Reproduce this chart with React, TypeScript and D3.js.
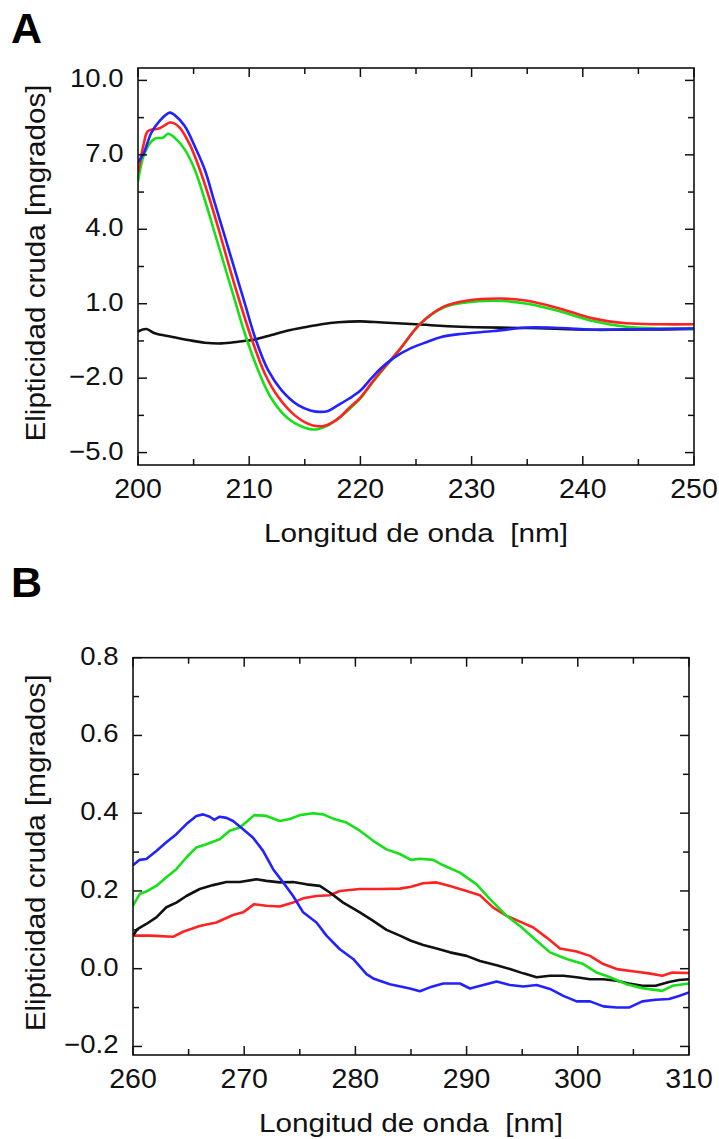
import React from "react";
import * as d3 from "d3";

type Pt = [number, number];

// ---------- Panel A (200–250 nm) ----------
const aXTicks = [200, 210, 220, 230, 240, 250];
const aYTicks = [10.0, 7.0, 4.0, 1.0, -2.0, -5.0];
const aYLabels = ["10.0", "7.0", "4.0", "1.0", "\u22122.0", "\u22125.0"];

const aBlue: Pt[] = [
  [200, 6.7], [200.5, 7.05], [201.2, 7.89], [201.95, 8.37], [202.85, 8.7], [203.3, 8.6],
  [204.2, 8.16], [205.1, 7.35], [206.0, 6.41], [206.9, 5.06], [207.8, 3.72], [208.7, 2.37],
  [209.6, 1.02], [210.6, -0.46], [211.7, -1.68], [212.9, -2.48], [214.4, -3.09], [215.5, -3.3],
  [216.4, -3.36], [217.1, -3.32], [218.0, -3.09], [219, -2.82], [220, -2.5], [221, -2.0],
  [221.8, -1.62], [223, -1.18], [224.5, -0.8], [226, -0.54], [227.2, -0.35], [229, -0.22],
  [232, -0.1], [235, 0.04], [238, 0.02], [241, -0.05], [245, -0.03], [250, 0.0],
];
const aRed: Pt[] = [
  [200, 6.27], [200.5, 7.4], [200.9, 7.96], [201.95, 8.07], [202.85, 8.3], [203.2, 8.28],
  [203.75, 8.1], [204.65, 7.42], [205.5, 6.48], [206.45, 5.2], [207.35, 3.85], [208.2, 2.5],
  [209.1, 1.15], [210.2, -0.39], [211.4, -1.81], [212.6, -2.75], [214.1, -3.5], [215.2, -3.82],
  [216.2, -3.94], [216.8, -3.92], [218.0, -3.63], [219, -3.2], [220, -2.78], [221, -2.2],
  [221.8, -1.75], [223.5, -0.86], [225.4, 0.2], [227.5, 0.88], [229.5, 1.12], [232.6, 1.21],
  [235, 1.12], [237.9, 0.81], [240.9, 0.41], [243.9, 0.21], [247, 0.17], [250, 0.17],
];
const aGreen: Pt[] = [
  [200, 5.92], [200.6, 7.08], [201.5, 7.65], [202.25, 7.69], [202.7, 7.85], [203.3, 7.69],
  [204.2, 7.22], [205.1, 6.41], [206.0, 5.2], [206.9, 3.85], [207.8, 2.5], [208.7, 1.15],
  [209.6, -0.19], [210.8, -1.68], [212.0, -2.82], [213.5, -3.63], [215.0, -4.0], [215.9, -4.07],
  [217.1, -3.9], [218.0, -3.63], [219, -3.25], [220, -2.82], [221, -2.22], [221.8, -1.78],
  [223.5, -0.88], [225.4, 0.2], [227.5, 0.85], [229.5, 1.05], [232.2, 1.12], [235, 1.0],
  [237.9, 0.7], [240.9, 0.3], [243.9, 0.07], [247, 0.0], [250, 0.0],
];
const aBlack: Pt[] = [
  [200, -0.12], [200.75, -0.02], [201.5, -0.19], [203, -0.33], [204.5, -0.46], [206, -0.57],
  [207.5, -0.6], [209, -0.53], [210.5, -0.44], [212, -0.26], [213.5, -0.08], [215, 0.05],
  [216.5, 0.17], [218, 0.25], [220, 0.29], [222, 0.24], [225, 0.17], [229, 0.07],
  [235, 0.02], [241, -0.05], [245, -0.04], [250, -0.02],
];

// ---------- Panel B (260–310 nm) ----------
const bXTicks = [260, 270, 280, 290, 300, 310];
const bYTicks = [0.8, 0.6, 0.4, 0.2, 0.0, -0.2];
const bYLabels = ["0.8", "0.6", "0.4", "0.2", "0.0", "\u22120.2"];

const bBlue: Pt[] = [
  [260, 0.266], [260.6, 0.28], [261.2, 0.282], [262.1, 0.303], [263, 0.325], [263.9, 0.346],
  [264.8, 0.372], [265.7, 0.393], [266.3, 0.397], [266.9, 0.391], [267.3, 0.383], [267.8, 0.391],
  [268.4, 0.388], [269, 0.38], [269.9, 0.359], [270.8, 0.337], [271.7, 0.303], [272.6, 0.256],
  [273.5, 0.222], [274.4, 0.187], [275.3, 0.145], [276.5, 0.119], [277.4, 0.085], [278.6, 0.05],
  [279.8, 0.025], [281, -0.014], [281.6, -0.025], [283.1, -0.04], [284.9, -0.051], [285.8, -0.058],
  [286.7, -0.048], [287.9, -0.038], [289.4, -0.038], [290.3, -0.051], [291.5, -0.042], [292.7, -0.033],
  [293.9, -0.042], [295.1, -0.046], [296.3, -0.042], [297.5, -0.052], [298.7, -0.07], [299.9, -0.084],
  [301.1, -0.084], [302.3, -0.097], [303.5, -0.1], [304.6, -0.1], [305.8, -0.084], [307, -0.08],
  [308.2, -0.078], [309.1, -0.07], [310, -0.061],
];
const bGreen: Pt[] = [
  [260, 0.162], [260.6, 0.192], [261.3, 0.2], [262.1, 0.213], [263, 0.235], [263.9, 0.256],
  [264.8, 0.286], [265.7, 0.312], [266.6, 0.32], [267.8, 0.333], [268.7, 0.355], [269.6, 0.363],
  [270.3, 0.38], [270.9, 0.395], [272, 0.393], [273.2, 0.38], [274.1, 0.385], [275, 0.395],
  [276.2, 0.4], [277.1, 0.397], [278, 0.386], [279.2, 0.376], [280.4, 0.355], [281.6, 0.329],
  [282.8, 0.307], [284, 0.295], [285, 0.28], [285.8, 0.283], [287, 0.28], [287.9, 0.266],
  [289.4, 0.247], [290.9, 0.217], [292.1, 0.179], [293.6, 0.136], [294.8, 0.11], [296.3, 0.072],
  [297.5, 0.042], [299, 0.025], [300.5, 0.012], [301.7, -0.01], [302.9, -0.022], [304.4, -0.04],
  [305.8, -0.05], [307.6, -0.057], [308.5, -0.044], [310, -0.038],
];
const bRed: Pt[] = [
  [260, 0.085], [261.5, 0.085], [263.6, 0.082], [264.5, 0.095], [266, 0.11], [267.5, 0.119],
  [269, 0.138], [269.9, 0.145], [270.9, 0.166], [272, 0.162], [273.2, 0.16], [274.4, 0.17],
  [275.3, 0.181], [276.5, 0.187], [277.7, 0.189], [278.6, 0.2], [280.4, 0.205], [282.2, 0.205],
  [284, 0.206], [285, 0.211], [286.1, 0.22], [287.3, 0.222], [288.5, 0.213], [290, 0.2],
  [291.2, 0.189], [292.4, 0.157], [293.6, 0.136], [294.8, 0.121], [296, 0.106], [297.2, 0.08],
  [298.4, 0.052], [299.9, 0.044], [301.1, 0.033], [302.3, 0.012], [303.5, -0.001], [305.3, -0.008],
  [306.4, -0.012], [307.6, -0.018], [308.5, -0.01], [310, -0.011],
];
const bBlack: Pt[] = [
  [260, 0.085], [260.4, 0.102], [261.2, 0.115], [262.1, 0.132], [263, 0.158], [263.9, 0.17],
  [264.8, 0.187], [266, 0.205], [267.2, 0.215], [268.4, 0.223], [269.6, 0.223], [271.1, 0.23],
  [272, 0.226], [273.2, 0.222], [274.4, 0.223], [275.6, 0.217], [276.8, 0.213], [277.7, 0.196],
  [278.9, 0.17], [280.4, 0.145], [281.6, 0.123], [282.8, 0.1], [284, 0.085], [285, 0.072],
  [286.1, 0.061], [287.3, 0.052], [288.5, 0.042], [290, 0.033], [291.2, 0.02], [292.7, 0.009],
  [293.9, -0.001], [295.1, -0.012], [296.3, -0.022], [297.5, -0.018], [298.7, -0.018], [299.9, -0.022],
  [301.1, -0.027], [302.3, -0.027], [303.5, -0.031], [304.6, -0.038], [305.8, -0.044], [307, -0.044],
  [308.2, -0.034], [309.1, -0.029], [310, -0.027],
];

const COLORS = { blue: "#2222ff", red: "#ff2222", green: "#18e018", black: "#111111" };
const FONT = "'Liberation Sans', Arial, Helvetica, sans-serif";
const X_TITLE = "Longitud de onda\u00a0\u00a0[nm]";
const Y_TITLE = "Elipticidad cruda [mgrados]";

interface PanelProps {
  letter: string;
  letterY: number;
  left: number;
  right: number;
  top: number;
  bottom: number;
  xDomain: [number, number];
  yDomain: [number, number];
  xTicks: number[];
  xMinorStep: number;
  yTicks: number[];
  yLabels: string[];
  yMinorStep: number;
  series: { data: Pt[]; color: string }[];
  smooth: boolean;
}

function Panel(p: PanelProps) {
  const x = d3.scaleLinear().domain(p.xDomain).range([p.left, p.right]);
  const y = d3.scaleLinear().domain(p.yDomain).range([p.bottom, p.top]);
  const line = d3
    .line<Pt>()
    .x((d) => x(d[0]))
    .y((d) => y(d[1]))
    .curve(p.smooth ? d3.curveCatmullRom.alpha(0.5) : d3.curveLinear);

  const xMinor = d3.range(p.xDomain[0], p.xDomain[1] + 1e-9, p.xMinorStep);
  const yStart = p.yTicks[p.yTicks.length - 1];
  const yMinor = d3.range(yStart, p.yTicks[0] + 1e-9, p.yMinorStep);
  const majorLen = 9;
  const minorLen = 6;
  const isMajorX = (v: number) => p.xTicks.some((t) => Math.abs(t - v) < 1e-6);
  const isMajorY = (v: number) => p.yTicks.some((t) => Math.abs(t - v) < 1e-6);
  const midY = (p.top + p.bottom) / 2;
  const midX = (p.left + p.right) / 2;

  return (
    <g>
      <text x={11} y={p.letterY} fontFamily={FONT} fontWeight="bold" fontSize={43} fill="#000">
        {p.letter}
      </text>
      <defs>
        <clipPath id={`clip-${p.letter}`}>
          <rect x={p.left} y={p.top} width={p.right - p.left} height={p.bottom - p.top} />
        </clipPath>
      </defs>
      <g clipPath={`url(#clip-${p.letter})`}>
        {p.series.map((s, i) => (
          <path key={i} d={line(s.data) || ""} fill="none" stroke={s.color} strokeWidth={2.6} strokeLinejoin="round" />
        ))}
      </g>
      <rect
        x={p.left}
        y={p.top}
        width={p.right - p.left}
        height={p.bottom - p.top}
        fill="none"
        stroke="#111"
        strokeWidth={1.6}
      />
      {xMinor.map((v, i) => {
        const len = isMajorX(v) ? majorLen : minorLen;
        return (
          <g key={`xt${i}`} stroke="#111" strokeWidth={1.5}>
            <line x1={x(v)} x2={x(v)} y1={p.bottom} y2={p.bottom - len} />
            <line x1={x(v)} x2={x(v)} y1={p.top} y2={p.top + len} />
          </g>
        );
      })}
      {yMinor.map((v, i) => {
        const len = isMajorY(v) ? majorLen : minorLen;
        return (
          <g key={`yt${i}`} stroke="#111" strokeWidth={1.5}>
            <line x1={p.left} x2={p.left + len} y1={y(v)} y2={y(v)} />
            <line x1={p.right} x2={p.right - len} y1={y(v)} y2={y(v)} />
          </g>
        );
      })}
      {p.xTicks.map((v) => (
        <text
          key={`xl${v}`}
          x={x(v)}
          y={p.bottom + 33}
          textAnchor="middle"
          fontFamily={FONT}
          fontSize={28.5}
          fill="#111"
        >
          {String(v)}
        </text>
      ))}
      {p.yTicks.map((v, i) => (
        <text
          key={`yl${i}`}
          transform={`translate(${p.left - 14.5}, ${y(v) + 7}) scale(1.08, 1)`}
          textAnchor="end"
          fontFamily={FONT}
          fontSize={25.5}
          fill="#111"
        >
          {p.yLabels[i]}
        </text>
      ))}
      <text
        x={midX}
        y={p.bottom + 77}
        textAnchor="middle"
        fontFamily={FONT}
        fontSize={26.5}
        textLength={304}
        lengthAdjust="spacingAndGlyphs"
        fill="#111"
      >
        {X_TITLE}
      </text>
      <text
        transform={`translate(45, ${midY - 3.5}) rotate(-90)`}
        textAnchor="middle"
        fontFamily={FONT}
        fontSize={27}
        textLength={357}
        lengthAdjust="spacingAndGlyphs"
        fill="#111"
      >
        {Y_TITLE}
      </text>
    </g>
  );
}

export default function App() {
  return (
    <svg
      width={719}
      height={1139}
      viewBox="0 0 719 1139"
      style={{ position: "absolute", left: 0, top: 0, background: "#fff" }}
    >
      <rect width={719} height={1139} fill="#fff" />
      <Panel
        letter="A"
        letterY={43}
        left={138}
        right={694}
        top={68}
        bottom={465}
        xDomain={[200, 250]}
        yDomain={[-5.5, 10.5]}
        xTicks={aXTicks}
        xMinorStep={5}
        yTicks={aYTicks}
        yLabels={aYLabels}
        yMinorStep={1.5}
        smooth={true}
        series={[
          { data: aBlack, color: COLORS.black },
          { data: aGreen, color: COLORS.green },
          { data: aRed, color: COLORS.red },
          { data: aBlue, color: COLORS.blue },
        ]}
      />
      <Panel
        letter="B"
        letterY={597}
        left={133}
        right={689}
        top={657.7}
        bottom={1055}
        xDomain={[260, 310]}
        yDomain={[-0.222, 0.8]}
        xTicks={bXTicks}
        xMinorStep={5}
        yTicks={bYTicks}
        yLabels={bYLabels}
        yMinorStep={0.1}
        smooth={false}
        series={[
          { data: bRed, color: COLORS.red },
          { data: bBlack, color: COLORS.black },
          { data: bGreen, color: COLORS.green },
          { data: bBlue, color: COLORS.blue },
        ]}
      />
    </svg>
  );
}
